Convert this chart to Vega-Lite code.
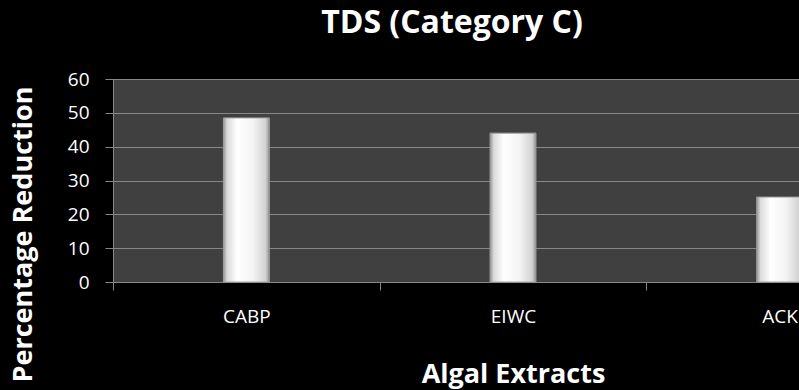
{
  "$schema": "https://vega.github.io/schema/vega-lite/v6.json",
  "autosize": {"type": "none"},
  "width": 686,
  "height": 203,
  "padding": {"left": 113, "top": 79, "right": 0, "bottom": 108},
  "background": "black",
  "title": {
    "text": "TDS (Category C)",
    "font": "Open Sans",
    "fontSize": 32,
    "fontWeight": "bold",
    "color": "white",
    "anchor": "middle",
    "baseline": "alphabetic",
    "offset": 5,
    "dx": -4
  },
  "data": {
    "values": [
      {"extract": "CABP", "reduction": 48.5},
      {"extract": "EIWC", "reduction": 44},
      {"extract": "ACK", "reduction": 25.1}
    ]
  },
  "mark": {
    "type": "bar",
    "width": {"band": 0.172},
    "stroke": "#a0a0a0",
    "strokeWidth": 1,
    "fill": {
      "x1": 0, "y1": 0, "x2": 1, "y2": 0,
      "gradient": "linear",
      "stops": [
        {"offset": 0, "color": "#949494"},
        {"offset": 0.08, "color": "#dadada"},
        {"offset": 0.3, "color": "#ffffff"},
        {"offset": 0.65, "color": "#f3f3f3"},
        {"offset": 0.92, "color": "#d2d2d2"},
        {"offset": 1, "color": "#909090"}
      ]
    }
  },
  "encoding": {
    "x": {
      "field": "extract",
      "type": "nominal",
      "sort": ["CABP", "EIWC", "ACK"],
      "scale": {"domain": ["CABP", "EIWC", "ACK"], "range": [0, 800], "paddingInner": 0, "paddingOuter": 0},
      "axis": {
        "title": "Algal Extracts",
        "titleFont": "Open Sans",
        "titleFontSize": 27,
        "titleFontWeight": "bold",
        "titleColor": "white",
        "titleBaseline": "alphabetic",
        "titleY": 100,
        "labelFont": "Open Sans",
        "labelFontSize": 19,
        "labelColor": "white",
        "labelAngle": 0,
        "labelPadding": 17,
        "tickBand": "extent",
        "tickSize": 8,
        "tickColor": "#878787",
        "domainColor": "#878787",
        "grid": false
      }
    },
    "y": {
      "field": "reduction",
      "type": "quantitative",
      "scale": {"domain": [0, 60], "nice": false},
      "axis": {
        "title": "Percentage Reduction",
        "titleFont": "Open Sans",
        "titleFontSize": 27,
        "titleFontWeight": "bold",
        "titleColor": "white",
        "titleX": -90,
        "titleY": 155,
        "titleBaseline": "middle",
        "titleAlign": "center",
        "values": [0, 10, 20, 30, 40, 50, 60],
        "labelFont": "Open Sans",
        "labelFontSize": 19,
        "labelColor": "white",
        "labelPadding": 16,
        "tickSize": 8,
        "tickColor": "#878787",
        "domainColor": "#878787",
        "grid": true,
        "gridColor": "#878787",
        "gridWidth": 1
      }
    }
  },
  "config": {
    "view": {"fill": "#404040", "stroke": null}
  }
}
